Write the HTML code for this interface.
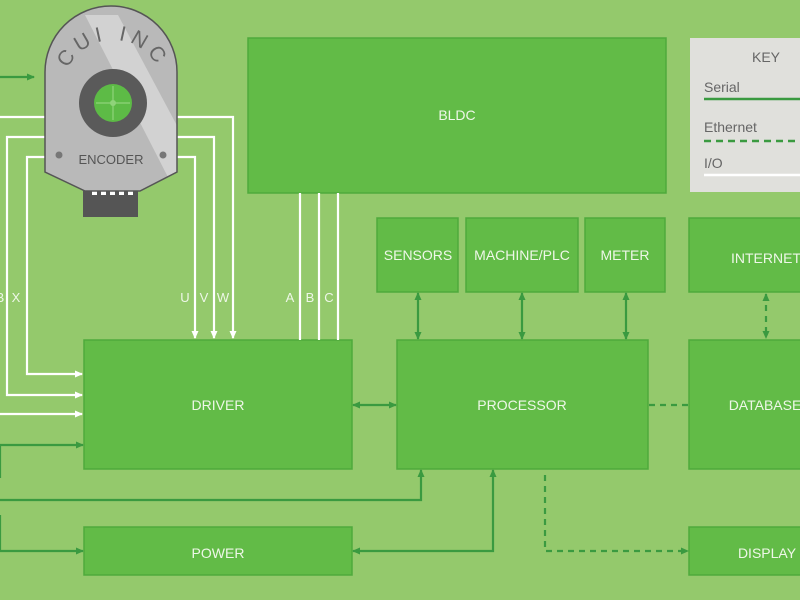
<!DOCTYPE html>
<html><head><meta charset="utf-8"><style>
html,body{margin:0;padding:0;background:#94c96c;}
svg{display:block;font-family:"Liberation Sans",sans-serif;}
</style></head><body>
<svg width="800" height="600" viewBox="0 0 800 600" xmlns="http://www.w3.org/2000/svg">
<defs>
<marker id="ag" markerWidth="8" markerHeight="8" refX="7" refY="4" orient="auto-start-reverse" markerUnits="userSpaceOnUse"><path d="M0,0.5 L8,4 L0,7.5Z" fill="#3a9a40"/></marker>
<marker id="aw" markerWidth="8" markerHeight="8" refX="7" refY="4" orient="auto" markerUnits="userSpaceOnUse"><path d="M0,0.5 L8,4 L0,7.5Z" fill="#fff"/></marker>
<clipPath id="enc"><path d="M45,172 L45,72 A66,66 0 0 1 177,72 L177,172 L140,191 L85,191 Z"/></clipPath>
</defs>
<rect width="800" height="600" fill="#94c96c"/>
<g fill="#62bb47" stroke="#4eaa3c" stroke-width="1.5">
<rect x="248" y="38" width="418" height="155"/>
<rect x="377" y="218" width="81" height="74"/>
<rect x="466" y="218" width="112" height="74"/>
<rect x="585" y="218" width="80" height="74"/>
<rect x="689" y="218" width="120" height="74"/>
<rect x="84" y="340" width="268" height="129"/>
<rect x="397" y="340" width="251" height="129"/>
<rect x="689" y="340" width="120" height="129"/>
<rect x="84" y="527" width="268" height="48"/>
<rect x="689" y="527" width="120" height="48"/>
</g>
<rect x="690" y="38" width="120" height="154" fill="#e0e0dc"/>
<g fill="#eef7e8" font-size="14" text-anchor="middle">
<text x="457" y="120">BLDC</text>
<text x="418" y="260">SENSORS</text>
<text x="522" y="260">MACHINE/PLC</text>
<text x="625" y="260">METER</text>
<text x="766" y="263">INTERNET</text>
<text x="218" y="410">DRIVER</text>
<text x="522" y="410">PROCESSOR</text>
<text x="765" y="410">DATABASE</text>
<text x="218" y="558">POWER</text>
<text x="767" y="558">DISPLAY</text>
</g>
<g fill="#666" font-size="14">
<text x="766" y="62" text-anchor="middle">KEY</text>
<text x="704" y="92">Serial</text>
<text x="704" y="132">Ethernet</text>
<text x="704" y="168">I/O</text>
</g>
<line x1="704" y1="99" x2="800" y2="99" stroke="#3a9a40" stroke-width="2.5"/>
<line x1="704" y1="141" x2="800" y2="141" stroke="#3a9a40" stroke-width="2.5" stroke-dasharray="7,5"/>
<line x1="704" y1="175" x2="800" y2="175" stroke="#fff" stroke-width="2.5"/>
<g fill="none" stroke="#fff" stroke-width="2.2">
<path d="M45,117 H0"/>
<path d="M45,137 H7 V395 H82" marker-end="url(#aw)"/>
<path d="M45,157 H27 V374 H82" marker-end="url(#aw)"/>
<path d="M0,414 H82" marker-end="url(#aw)"/>
<path d="M177,117 H233 V338" marker-end="url(#aw)"/>
<path d="M177,137 H214 V338" marker-end="url(#aw)"/>
<path d="M177,157 H195 V338" marker-end="url(#aw)"/>
<path d="M300,193 V340 M319,193 V340 M338,193 V340"/>
</g>
<g fill="#eef7e8" font-size="13" text-anchor="middle">
<text x="0" y="302">B</text><text x="16" y="302">X</text>
<text x="185" y="302">U</text><text x="204" y="302">V</text><text x="223" y="302">W</text>
<text x="290" y="302">A</text><text x="310" y="302">B</text><text x="329" y="302">C</text>
</g>
<g fill="none" stroke="#3a9a40" stroke-width="2.2">
<path d="M0,77 H34" marker-end="url(#ag)"/>
<path d="M0,478 V445 H83" marker-end="url(#ag)"/>
<path d="M0,500 H421 V470" marker-end="url(#ag)"/>
<path d="M0,515 V551 H83" marker-end="url(#ag)"/>
<path d="M493,470 V551 H353" marker-start="url(#ag)" marker-end="url(#ag)"/>
<path d="M353,405 H396" marker-start="url(#ag)" marker-end="url(#ag)"/>
<path d="M418,293 V339" marker-start="url(#ag)" marker-end="url(#ag)"/>
<path d="M522,293 V339" marker-start="url(#ag)" marker-end="url(#ag)"/>
<path d="M626,293 V339" marker-start="url(#ag)" marker-end="url(#ag)"/>
</g>
<g fill="none" stroke="#3a9a40" stroke-width="2.2" stroke-dasharray="6,5">
<path d="M766,294 V338" marker-start="url(#ag)" marker-end="url(#ag)"/>
<path d="M649,405 H689"/>
<path d="M545,475 V551 H688" marker-end="url(#ag)"/>
</g>
<rect x="83" y="187" width="55" height="30" fill="#555"/>
<g fill="#fff"><rect x="92" y="188" width="5" height="7"/><rect x="101" y="188" width="5" height="7"/><rect x="110" y="188" width="5" height="7"/><rect x="119" y="188" width="5" height="7"/><rect x="128" y="188" width="5" height="7"/></g>
<g clip-path="url(#enc)">
<rect x="40" y="0" width="150" height="200" fill="#b9b9b9"/>
<path d="M85,15 L118,15 L190,150 L172,185Z" fill="#d2d2d2"/>
</g>
<path d="M45,172 L45,72 A66,66 0 0 1 177,72 L177,172 L140,191 L85,191 Z" fill="none" stroke="#555" stroke-width="1.5"/>
<circle cx="113" cy="103" r="34" fill="#5a5a5a"/>
<circle cx="113" cy="103" r="19" fill="#5dbb46"/>
<path d="M113,86 V120 M96,103 H130" stroke="#8fd37a" stroke-width="1.2"/>
<circle cx="113" cy="103" r="3" fill="#8fd37a"/>
<circle cx="59" cy="155" r="3.5" fill="#777"/>
<circle cx="163" cy="155" r="3.5" fill="#777"/>
<text x="111" y="164" text-anchor="middle" font-size="13" fill="#555">ENCODER</text>
<path id="arc" d="M64,80 A50,50 0 0 1 162,80" fill="none"/>
<text font-size="21" fill="#666" letter-spacing="5"><textPath href="#arc" startOffset="50%" text-anchor="middle">CUI INC</textPath></text>
</svg>
</body></html>
